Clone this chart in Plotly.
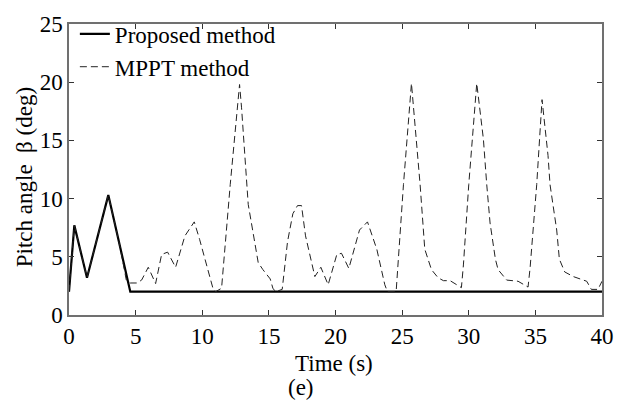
import plotly.graph_objects as go

# Proposed method (solid)
t_prop = [0, 0.4, 1.35, 2.95, 4.6, 40]
b_prop = [2.0, 7.7, 3.2, 10.3, 2.0, 2.0]

# MPPT method (dashed)
t_mppt = [0, 0.4, 1.35, 2.95, 3.8, 4.3, 4.6, 5.1, 5.45, 5.95, 6.5, 6.95, 7.4, 8.0, 8.7, 9.4,
          9.8, 10.45, 10.8, 11.0, 11.45, 12.1, 12.8, 12.95, 13.45, 14.2, 14.55, 15.1, 15.3, 15.5,
          16.0, 16.4, 16.8, 17.15, 17.45, 17.75, 18.2, 18.45, 18.9, 19.45, 20.1, 20.45, 21.0, 21.8,
          22.4, 23.1, 23.7, 23.9, 24.55, 25.1, 25.7, 26.1, 26.35, 26.7, 27.2, 27.7, 28.1, 28.6,
          29.45, 29.6, 30.0, 30.6, 31.1, 31.35, 31.6, 32.0, 32.2, 32.85, 33.7, 34.45, 34.6, 35.1,
          35.5, 35.95, 36.1, 36.6, 36.8, 37.2, 37.85, 38.85, 39.2, 39.7, 40]
b_mppt = [2.0, 7.7, 3.2, 10.3, 6.0, 3.0, 2.75, 2.75, 3.0, 4.1, 2.7, 5.2, 5.4, 4.1, 6.8, 8.0,
          6.5, 3.7, 2.3, 2.0, 2.3, 11.2, 19.8, 17.8, 9.5, 4.5, 3.9, 3.1, 2.3, 2.0,
          2.2, 6.3, 8.7, 9.4, 9.4, 6.8, 4.5, 3.3, 4.1, 2.6, 5.2, 5.3, 4.0, 7.3,
          8.0, 5.65, 2.6, 2.0, 2.0, 11.2, 19.9, 14.5, 11.2, 5.65, 3.9, 3.2, 2.95, 2.95,
          2.35, 4.3, 11.2, 19.9, 15.1, 11.2, 7.9, 4.8, 3.9, 3.0, 2.9, 2.4, 4.0, 11.2,
          18.5, 13.7, 11.2, 7.3, 4.8, 3.7, 3.3, 2.9, 2.2, 2.2, 2.9]

x_ticks = [0, 5, 10, 15, 20, 25, 30, 35, 40]
y_ticks = [0, 5, 10, 15, 20, 25]

FONT = "Liberation Serif, Times New Roman, serif"
FS = 23

fig = go.Figure()
fig.add_trace(go.Scatter(x=t_prop, y=b_prop, mode="lines", name="Proposed method",
                         line=dict(color="black", width=2.2)))
fig.add_trace(go.Scatter(x=t_mppt, y=b_mppt, mode="lines", name="MPPT method",
                         line=dict(color="#222222", width=1, dash="7px,4px")))

axis_common = dict(showline=True, linecolor="#707070", linewidth=1.5, mirror="ticks",
                   ticks="inside", ticklen=5, tickcolor="#333333", tickwidth=1,
                   showgrid=False, zeroline=False,
                   tickfont=dict(family=FONT, size=FS, color="black"))

fig.update_xaxes(range=[0, 40], tickvals=x_ticks, ticktext=[str(v) for v in x_ticks], **axis_common)
fig.update_yaxes(range=[0, 25], tickvals=y_ticks, ticktext=[str(v) for v in y_ticks], **axis_common)

fig.update_layout(
    width=630, height=403,
    margin=dict(l=69, r=28, t=13, b=88),
    paper_bgcolor="white", plot_bgcolor="white",
    font=dict(family=FONT, size=FS, color="black"),
    showlegend=True,
    legend=dict(x=0.011, y=1.04, xanchor="left", yanchor="top",
                bgcolor="rgba(0,0,0,0)", borderwidth=0,
                font=dict(family=FONT, size=FS, color="black"),
                tracegroupgap=0),
    annotations=[
        dict(text="Pitch angle  β (deg)", xref="paper", yref="paper",
             x=-0.0844, y=0.4735, xanchor="center", yanchor="middle",
             textangle=-90, showarrow=False, font=dict(family=FONT, size=FS)),
        dict(text="Time (s)", xref="paper", yref="paper",
             x=0.497, y=-0.116, xanchor="center", yanchor="top",
             showarrow=False, font=dict(family=FONT, size=FS)),
        dict(text="(e)", xref="paper", yref="paper",
             x=0.435, y=-0.248, xanchor="center", yanchor="middle",
             showarrow=False, font=dict(family=FONT, size=FS)),
    ],
)

fig.write_html("out.html")
